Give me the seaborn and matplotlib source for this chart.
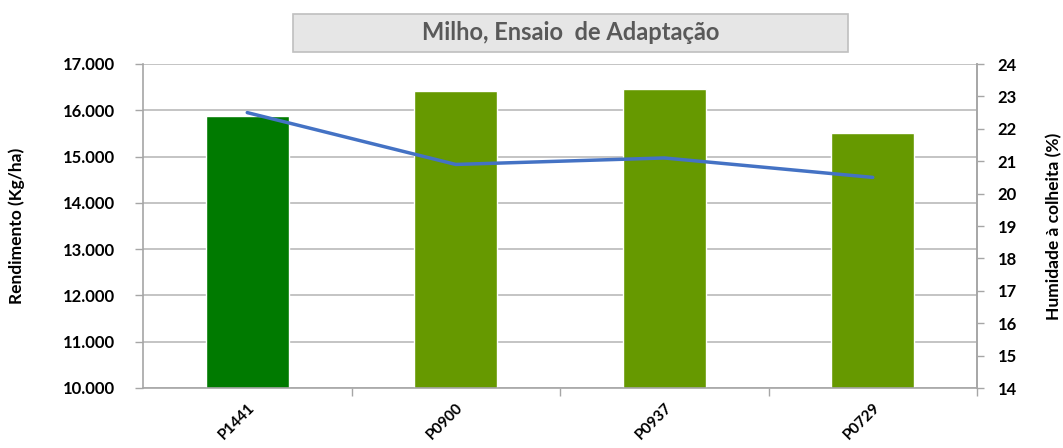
import matplotlib
matplotlib.use('Agg')
import matplotlib.pyplot as plt
import seaborn as sns
import pandas as pd
import numpy as np
from matplotlib.patches import Rectangle
from matplotlib.ticker import FuncFormatter, FixedLocator

categories = ['P1441', 'P0900', 'P0937', 'P0729']
rendimento = [15880, 16410, 16450, 15510]
humidade = [22.5, 20.9, 21.1, 20.5]
bar_colors = ['#007A00', '#669900', '#669900', '#669900']
title = 'Milho, Ensaio  de Adaptação'

sns.set_theme(style='white')
plt.rcParams['font.family'] = ['Lato', 'DejaVu Sans']

fig = plt.figure(figsize=(10.63, 4.48), dpi=100)
L, R, T, B = 143 / 1063, 977 / 1063, 64 / 448, 388 / 448
ax = fig.add_axes([L, 1 - B, R - L, B - T])

df = pd.DataFrame({'cat': categories, 'rend': rendimento, 'hum': humidade})
sns.barplot(data=df, x='cat', y='rend', hue='cat', palette=bar_colors,
            width=0.4, legend=False, ax=ax, saturation=1, zorder=2)
ax.set_ylim(10000, 17000)
ax.set_xlim(-0.5, 3.5)
ax.set_yticks(np.arange(10000, 17001, 1000))
ax.yaxis.set_major_formatter(FuncFormatter(lambda v, p: f'{v:,.0f}'.replace(',', '.')))
ax.grid(axis='y', color='#BFBFBF', linewidth=1.3, zorder=0)
ax.set_axisbelow(True)
ax.set_xlabel('')
ax.set_ylabel('Rendimento (Kg/ha)', fontsize=12.5, fontweight='bold', color='black')
ax.yaxis.set_label_coords(-0.142, 0.5)
ax.set_xticks(range(len(categories)))
ax.set_xticklabels(categories, rotation=45, ha='right', rotation_mode='anchor',
                   fontsize=11, fontweight='bold', color='black')
ax.tick_params(axis='x', which='major', length=0, pad=9)
ax.xaxis.set_minor_locator(FixedLocator([0.5, 1.5, 2.5, 3.5]))
ax.tick_params(axis='x', which='minor', length=6, color='#A6A6A6', width=1, bottom=True)
ax.tick_params(axis='y', length=6, color='#A6A6A6', width=1, left=True,
               labelsize=12, labelcolor='black', pad=14)
for lab in ax.get_yticklabels():
    lab.set_fontweight('bold')
ax.spines['top'].set_visible(False)
for s in ['left', 'bottom', 'right']:
    ax.spines[s].set_color('#A6A6A6')
    ax.spines[s].set_linewidth(1.2)

ax2 = ax.twinx()
sns.lineplot(x=np.arange(len(categories)), y=df['hum'], ax=ax2, color='#4472C4',
             linewidth=2.5, zorder=3)
ax2.set_ylim(14, 24)
ax2.set_yticks(np.arange(14, 25, 1))
ax2.set_ylabel('Humidade à colheita (%)', fontsize=12.5, fontweight='bold', color='black',
               rotation=90)
ax2.yaxis.set_label_coords(1.083, 0.5)
ax2.tick_params(axis='y', length=5, color='#A6A6A6', width=1, right=True,
                labelsize=12, labelcolor='black', pad=10)
for lab in ax2.get_yticklabels():
    lab.set_fontweight('bold')
for s in ['top', 'left', 'bottom']:
    ax2.spines[s].set_visible(False)
ax2.spines['right'].set_color('#A6A6A6')
ax2.spines['right'].set_linewidth(1.2)
ax2.grid(False)

x0, x1, y0, y1 = 293 / 1063, 848 / 1063, 1 - 52 / 448, 1 - 14 / 448
fig.patches.append(Rectangle((x0, y0), x1 - x0, y1 - y0, transform=fig.transFigure,
                             facecolor='#E6E6E6', edgecolor='#BFBFBF', linewidth=1.2))
fig.text((x0 + x1) / 2, (y0 + y1) / 2, title, ha='center', va='center',
         fontsize=17, fontweight='bold', color='#595959')

fig.savefig('out.png', dpi=100)
